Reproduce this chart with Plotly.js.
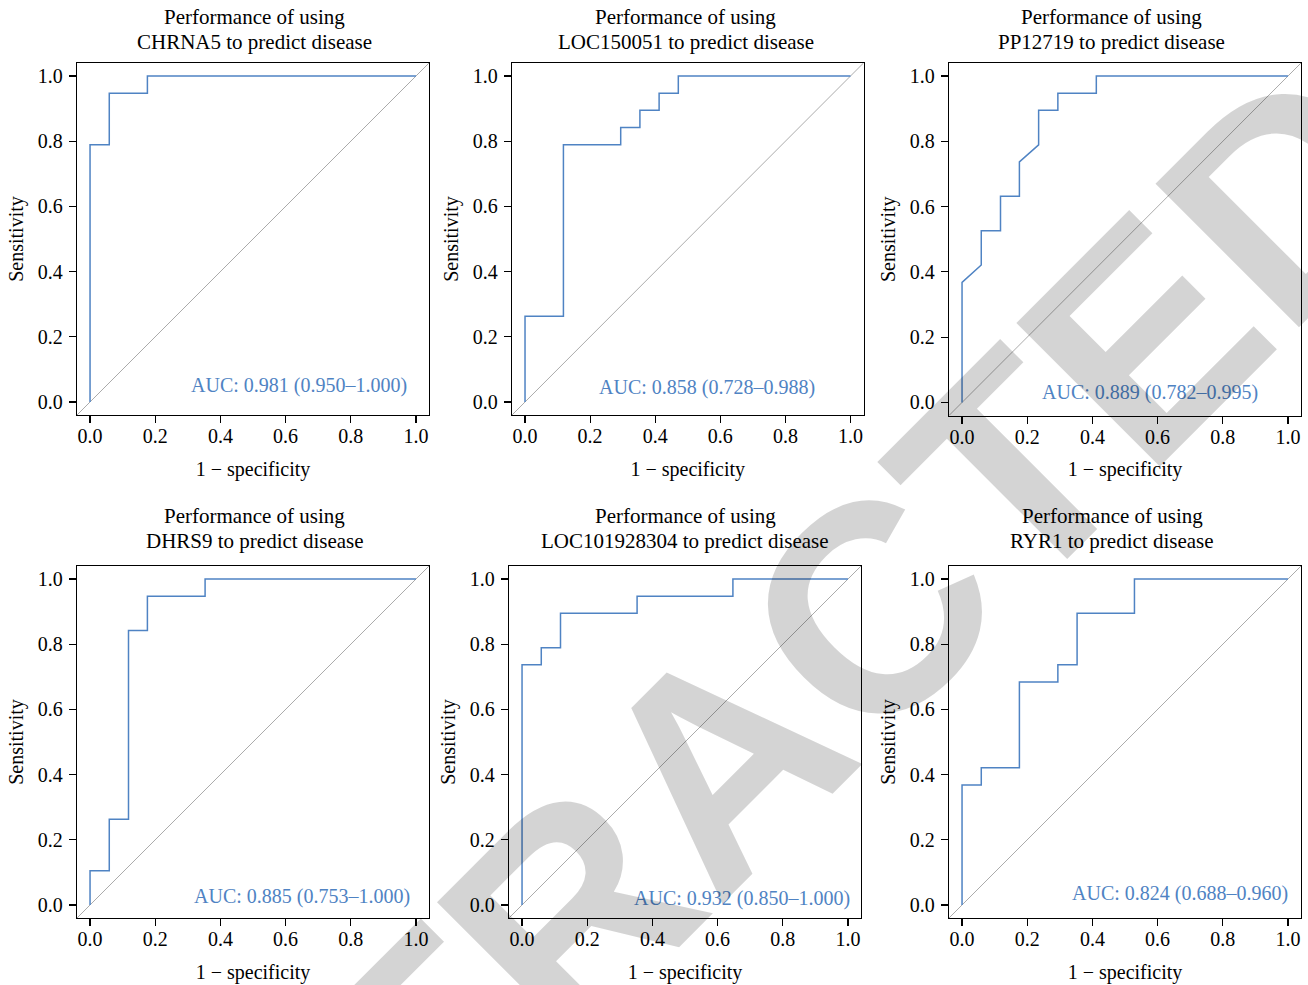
<!DOCTYPE html>
<html>
<head>
<meta charset="utf-8">
<script src="https://cdn.plot.ly/plotly-3.0.1.min.js"></script>
<style>html,body{margin:0;padding:0;background:#fff;}</style>
</head>
<body>
<div id="chart" style="width:1308px;height:985px;"></div>
<script>
// ---------- data ----------
const genes = ["CHRNA5", "LOC150051", "PP12719", "DHRS9", "LOC101928304", "RYR1"];
const aucLabels = [
  "AUC: 0.981 (0.950\u20131.000)",
  "AUC: 0.858 (0.728\u20130.988)",
  "AUC: 0.889 (0.782\u20130.995)",
  "AUC: 0.885 (0.753\u20131.000)",
  "AUC: 0.932 (0.850\u20131.000)",
  "AUC: 0.824 (0.688\u20130.960)"
];
const fpr_CHRNA5 = [0, 0, 0.059, 0.059, 0.176, 0.176, 1];
const sens_CHRNA5 = [0, 0.789, 0.789, 0.947, 0.947, 1, 1];
const fpr_LOC150051 = [0, 0, 0.118, 0.118, 0.294, 0.294, 0.353, 0.353, 0.412, 0.412, 0.471, 0.471, 1];
const sens_LOC150051 = [0, 0.263, 0.263, 0.789, 0.789, 0.842, 0.842, 0.895, 0.895, 0.947, 0.947, 1, 1];
const fpr_PP12719 = [0, 0, 0.059, 0.059, 0.118, 0.118, 0.176, 0.176, 0.235, 0.235, 0.294, 0.294, 0.412, 0.412, 1];
const sens_PP12719 = [0, 0.368, 0.421, 0.526, 0.526, 0.632, 0.632, 0.737, 0.789, 0.895, 0.895, 0.947, 0.947, 1, 1];
const fpr_DHRS9 = [0, 0, 0.059, 0.059, 0.118, 0.118, 0.176, 0.176, 0.353, 0.353, 1];
const sens_DHRS9 = [0, 0.105, 0.105, 0.263, 0.263, 0.842, 0.842, 0.947, 0.947, 1, 1];
const fpr_LOC101928304 = [0, 0, 0.059, 0.059, 0.118, 0.118, 0.353, 0.353, 0.647, 0.647, 1];
const sens_LOC101928304 = [0, 0.737, 0.737, 0.789, 0.789, 0.895, 0.895, 0.947, 0.947, 1, 1];
const fpr_RYR1 = [0, 0, 0.059, 0.059, 0.176, 0.176, 0.294, 0.294, 0.353, 0.353, 0.529, 0.529, 1];
const sens_RYR1 = [0, 0.368, 0.368, 0.421, 0.421, 0.684, 0.684, 0.737, 0.737, 0.895, 0.895, 1, 1];
const tickValues = [0, 0.2, 0.4, 0.6, 0.8, 1.0];
const watermarkText = "RETRACTED";

const fprList = [fpr_CHRNA5, fpr_LOC150051, fpr_PP12719, fpr_DHRS9, fpr_LOC101928304, fpr_RYR1];
const sensList = [sens_CHRNA5, sens_LOC150051, sens_PP12719, sens_DHRS9, sens_LOC101928304, sens_RYR1];

// ---------- layout settings ----------
const W = 1308, H = 985;
const AXIS_RANGE = [-0.04, 1.04];
// plot boxes in pixels: [left, right, top, bottom]
const boxes = [
  [77, 429, 63, 415], [512, 863.5, 63, 415], [949, 1301, 63, 415.5],
  [77, 429, 566, 918], [509, 861, 566, 918], [949, 1301, 566, 918]
];
// AUC label anchor (right edge, vertical middle) in data units
const aucPos = [[0.978, 0.051], [0.898, 0.045], [0.913, 0.029], [0.988, 0.025], [1.013, 0.021], [1.007, 0.034]];
// title centers in pixels: [x, line1 y, line2 y]
const titlePos = [
  [254.5, 17, 42.5], [685.5, 16.5, 42], [1111.7, 16.5, 42],
  [254.7, 515.5, 541], [685.3, 515.5, 541], [1112, 515.5, 541]
];
const BLUE = "#4f83c3";
const SERIF = "Liberation Serif, Times New Roman, serif";

const data = [];
const layout = {
  width: W, height: H,
  margin: {l: 0, r: 0, t: 0, b: 0},
  paper_bgcolor: "#fff", plot_bgcolor: "#fff",
  showlegend: false,
  font: {family: SERIF, color: "#000"},
  shapes: [], annotations: []
};

genes.forEach((g, i) => {
  const n = i === 0 ? "" : String(i + 1);
  const [l, r, t, b] = boxes[i];
  data.push({
    type: "scatter", mode: "lines",
    x: fprList[i], y: sensList[i],
    xaxis: "x" + n, yaxis: "y" + n,
    line: {color: BLUE, width: 1.5, shape: "linear"},
    hoverinfo: "skip"
  });
  const common = {
    range: AXIS_RANGE, tickvals: tickValues, tickformat: ".1f",
    ticks: "outside", ticklen: 7, tickwidth: 1.2, tickcolor: "#000",
    showline: true, mirror: true, linecolor: "#000", linewidth: 1.3,
    showgrid: false, zeroline: false, automargin: false, fixedrange: true,
    tickfont: {family: SERIF, size: 20, color: "#000"}
  };
  layout["xaxis" + n] = Object.assign({}, common, {
    domain: [l / W, r / W], anchor: "y" + n,
    ticklabelstandoff: -4,
    title: {text: "1 \u2212 specificity", font: {family: SERIF, size: 20, color: "#000"}, standoff: 15}
  });
  layout["yaxis" + n] = Object.assign({}, common, {
    domain: [1 - b / H, 1 - t / H], anchor: "x" + n,
    ticklabelstandoff: 2,
    title: {text: "Sensitivity", font: {family: SERIF, size: 20, color: "#000"}, standoff: 8}
  });
  layout.shapes.push({
    type: "line", xref: "x" + n, yref: "y" + n, layer: "below",
    x0: AXIS_RANGE[0], y0: AXIS_RANGE[0], x1: AXIS_RANGE[1], y1: AXIS_RANGE[1],
    line: {color: "#ababab", width: 1}
  });
  layout.annotations.push({
    xref: "x" + n, yref: "y" + n, x: aucPos[i][0], y: aucPos[i][1],
    xanchor: "right", yanchor: "middle", showarrow: false,
    text: aucLabels[i], font: {family: SERIF, size: 20, color: BLUE}
  });
  const tp = titlePos[i];
  layout.annotations.push({
    xref: "paper", yref: "paper", x: tp[0] / W, y: 1 - tp[1] / H,
    xanchor: "center", yanchor: "middle", showarrow: false,
    text: "Performance of using", font: {family: SERIF, size: 21, color: "#000"}
  });
  layout.annotations.push({
    xref: "paper", yref: "paper", x: tp[0] / W, y: 1 - tp[2] / H,
    xanchor: "center", yanchor: "middle", showarrow: false,
    text: g + " to predict disease", font: {family: SERIF, size: 21, color: "#000"}
  });
});

// diagonal watermark
layout.annotations.push({
  xref: "paper", yref: "paper", x: 720 / W, y: 1 - 762 / H,
  xanchor: "center", yanchor: "middle", showarrow: false, textangle: -45,
  text: "<b>" + watermarkText + "</b>",
  font: {family: "Liberation Sans, Arial, sans-serif", size: 295, color: "rgba(0,0,0,0.17)"}
});

Plotly.newPlot("chart", data, layout, {staticPlot: true, displayModeBar: false});
</script>
</body>
</html>
